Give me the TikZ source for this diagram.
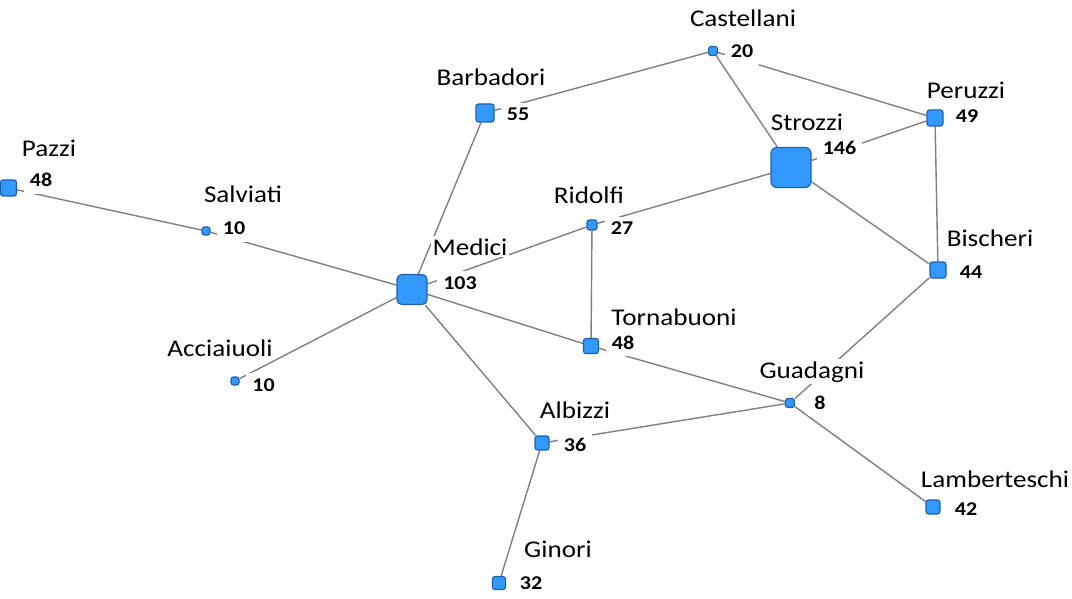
\documentclass[tikz,border=0pt]{standalone}
\usepackage{fontspec}
\setmainfont{Carlito}[FakeStretch=1.13]
\pgfdeclarelayer{bg}
\pgfsetlayers{bg,main}
\definecolor{nodefill}{RGB}{51,153,255}
\definecolor{nodeline}{RGB}{30,95,175}
\definecolor{edgecol}{RGB}{128,128,128}
\tikzset{
  sq/.style={rectangle, draw=nodeline, fill=nodefill, line width=1.2pt, inner sep=0pt, minimum size=#1, rounded corners=2.5pt},
  famlabel/.style={anchor=base, fill=white, inner sep=2pt, font=\fontsize{24}{28}\selectfont},
  famnum/.style={anchor=base, fill=white, inner xsep=6pt, inner ysep=3pt, text height=15pt, text depth=4pt, font=\fontsize{19.5}{23}\selectfont\bfseries},
  link/.style={draw=edgecol, line width=1.4pt}
}
\newcommand\famnode[9]{%
  \node[famlabel] (#1-l) at (#5,#6) {#1};
  \node[famnum] (#1-n) at (#8,#9) {#7};
  \node[sq=#4pt] (#1) at (#2,#3) {};
}
\begin{document}
\begin{tikzpicture}[x=1pt,y=-1pt]
\useasboundingbox (0,0) rectangle (1072,599);
\famnode{Castellani}{713}{51}{9}{743}{27}{20}{742}{58}
\famnode{Barbadori}{485}{113}{18}{491}{86}{55}{518}{121}
\famnode{Peruzzi}{935}{118}{16}{966}{99}{49}{967}{123}
\famnode{Pazzi}{8.5}{188}{16}{49}{157}{48}{41}{187}
\famnode{Salviati}{206}{231}{8}{243}{203}{10}{234}{235}
\famnode{Ridolfi}{592}{225}{10}{589}{204}{27}{622}{235}
\famnode{Bischeri}{938}{270}{16}{990}{247}{44}{971}{278}
\famnode{Tornabuoni}{591}{346}{15}{674}{325}{48}{623}{349}
\famnode{Acciaiuoli}{235}{381}{8}{220}{356}{10}{263.5}{391}
\famnode{Guadagni}{790}{403}{9}{812}{378}{8}{820}{409}
\famnode{Albizzi}{542}{443}{14}{575}{418}{36}{575}{451}
\famnode{Lamberteschi}{933}{507}{14}{995}{487}{42}{966}{515}
\famnode{Ginori}{499}{583}{13}{558}{557}{32}{531}{589}
\node[famlabel] (Strozzi-l) at (807,131) {Strozzi};
\node[famnum] (Strozzi-n) at (839.5,155) {146};
\node[sq=40pt, rounded corners=6pt] (Strozzi) at (791,167.5) {};
\node[famlabel] (Medici-l) at (470,255) {Medici};
\node[famnum] (Medici-n) at (460,289) {103};
\node[sq=30pt, rounded corners=5pt] (Medici) at (412,289.5) {};
\begin{pgfonlayer}{bg}
\path[link] (Castellani) -- (Barbadori);
\path[link] (Castellani) -- (Peruzzi);
\path[link] (Castellani) -- (Strozzi);
\path[link] (Strozzi) -- (Peruzzi);
\path[link] (Strozzi) -- (Ridolfi);
\path[link] (Strozzi) -- (Bischeri);
\path[link] (Peruzzi) -- (Bischeri);
\path[link] (Bischeri) -- (Guadagni);
\path[link] (Barbadori) -- (Medici);
\path[link] (Pazzi) -- (Salviati);
\path[link] (Salviati) -- (Medici);
\path[link] (Medici) -- (Ridolfi);
\path[link] (Medici) -- (Acciaiuoli);
\path[link] (Medici) -- (Tornabuoni);
\path[link] (Medici) -- (Albizzi);
\path[link] (Ridolfi) -- (Tornabuoni);
\path[link] (Tornabuoni) -- (Guadagni);
\path[link] (Guadagni) -- (Albizzi);
\path[link] (Guadagni) -- (Lamberteschi);
\path[link] (Albizzi) -- (Ginori);
\end{pgfonlayer}
\end{tikzpicture}
\end{document}
